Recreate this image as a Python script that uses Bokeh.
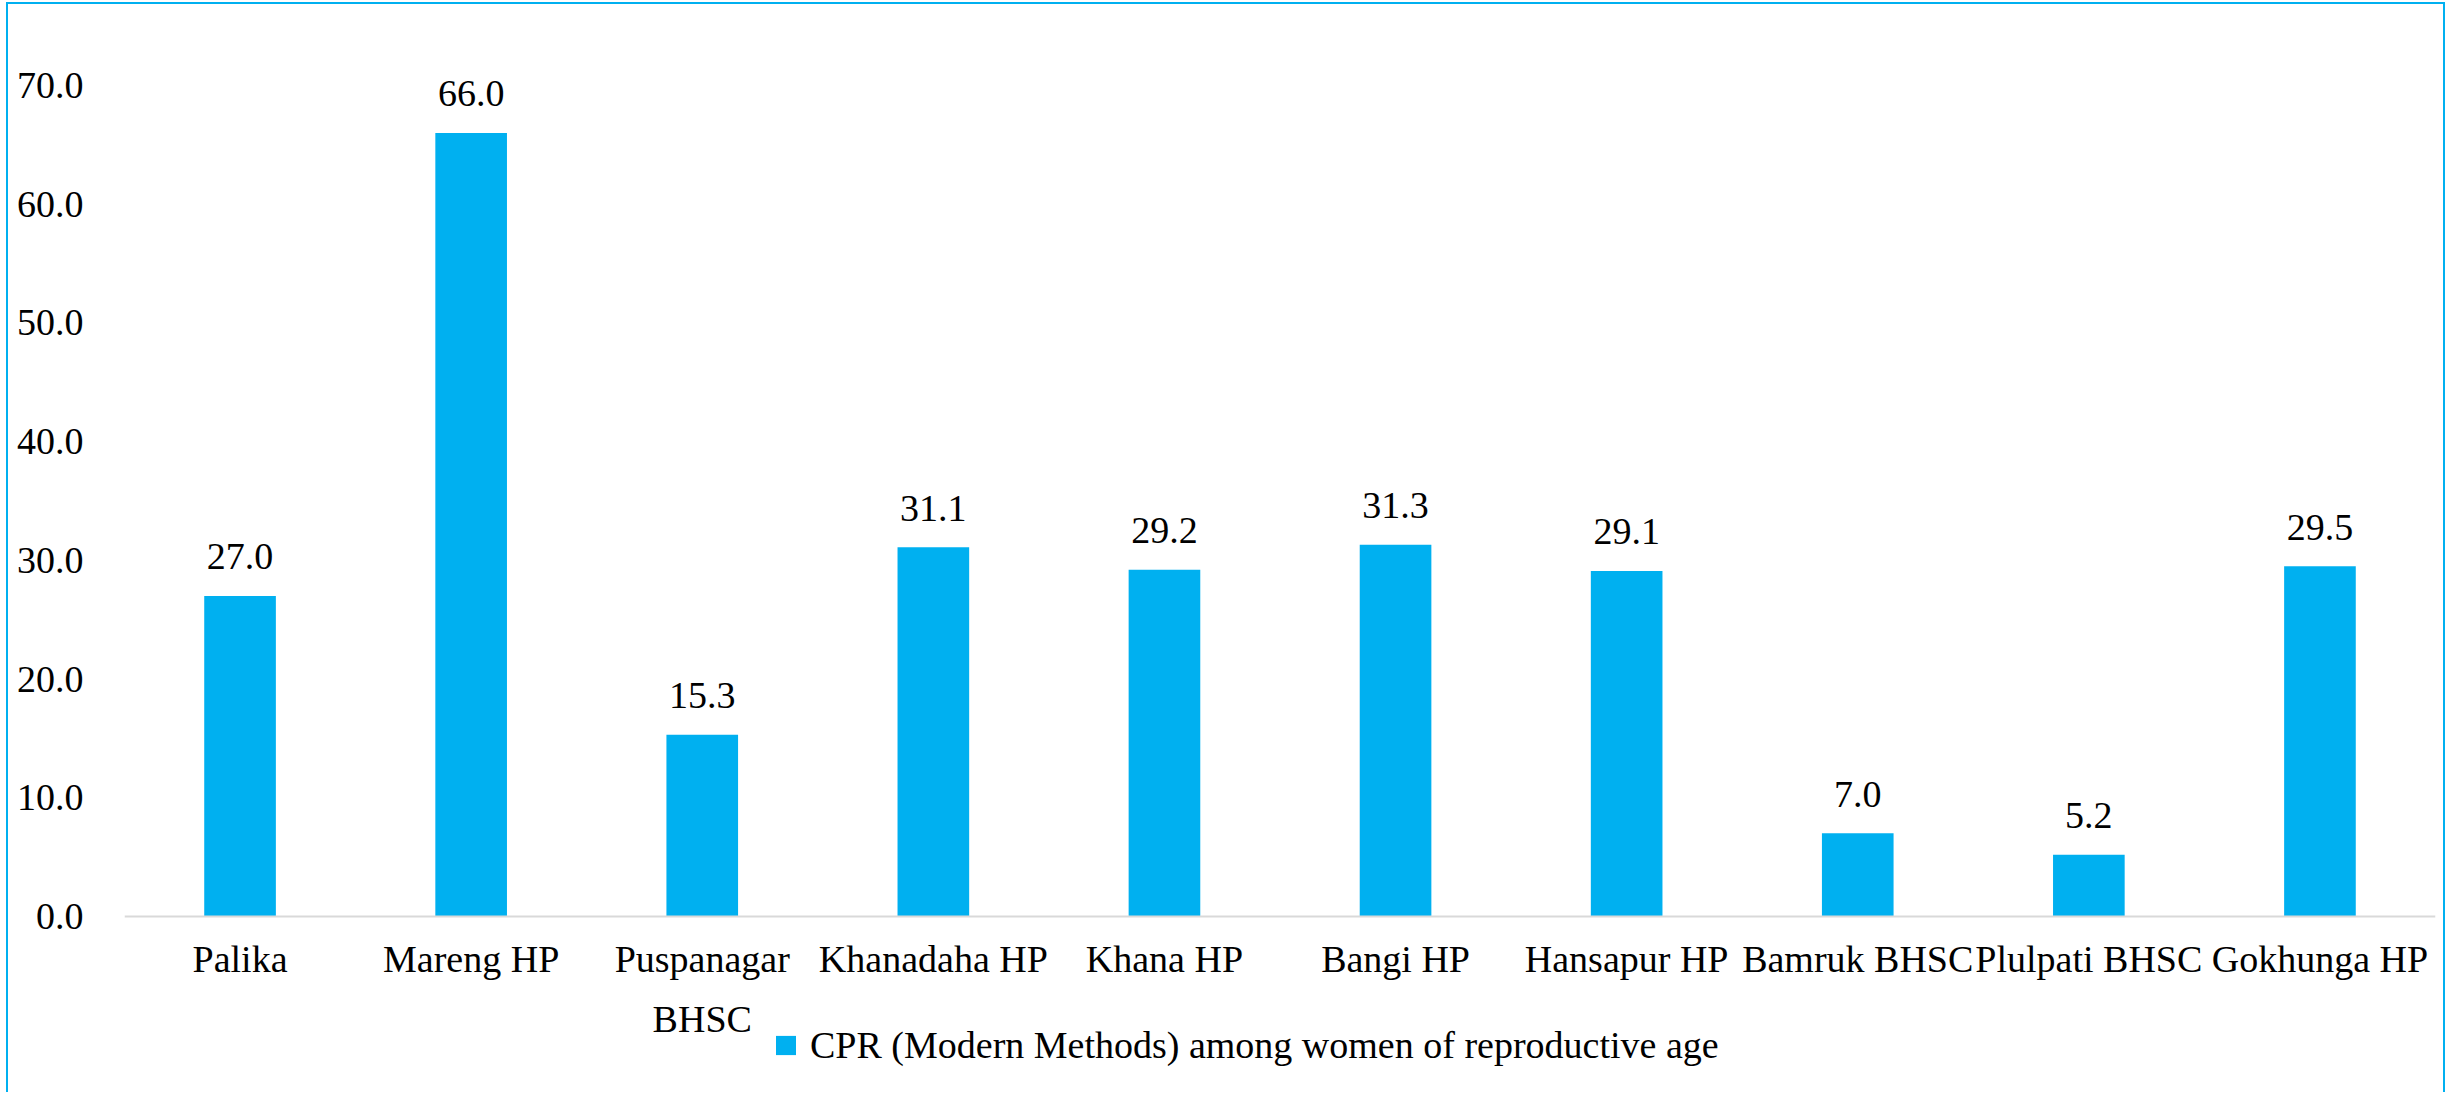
from bokeh.plotting import figure
from bokeh.models import (ColumnDataSource, FactorRange, Range1d, FixedTicker,
                          NumeralTickFormatter, Legend, LegendItem)
from bokeh.core.properties import value
from bokeh.embed import file_html
from bokeh.resources import INLINE

categories = ["Palika", "Mareng HP", "Puspanagar\nBHSC", "Khanadaha HP", "Khana HP",
              "Bangi HP", "Hansapur HP", "Bamruk BHSC", "Plulpati BHSC", "Gokhunga HP"]
cpr_values = [27.0, 66.0, 15.3, 31.1, 29.2, 31.3, 29.1, 7.0, 5.2, 29.5]
y_ticks = [0, 10, 20, 30, 40, 50, 60, 70]
series_name = "CPR (Modern Methods) among women of reproductive age"

BLUE = "#00B0F0"
FONT = "Liberation Serif"
FS = "38px"

src = ColumnDataSource(dict(cat=categories, val=cpr_values,
                            lbl=[f"{v:.1f}" for v in cpr_values]))

# frame fills the canvas height; the x axis is pinned at y = 0
p = figure(x_range=FactorRange(factors=categories, range_padding=0),
           y_range=Range1d(-15.0, 76.82),
           width=2439, height=1090,
           output_backend="svg", toolbar_location=None,
           min_border_left=116, min_border_right=12,
           min_border_top=0, min_border_bottom=0)
p.styles = {"border-top": f"2px solid {BLUE}",
            "border-left": f"2px solid {BLUE}",
            "border-right": f"2px solid {BLUE}",
            "margin-left": "6px", "margin-top": "2px"}
p.outline_line_color = None
p.background_fill_color = "white"
p.border_fill_color = "white"
p.xgrid.grid_line_color = None
p.ygrid.grid_line_color = None

bars = p.vbar(x="cat", top="val", width=0.31, bottom=0, source=src,
              fill_color=BLUE, line_color=None)

p.text(x="cat", y="val", text="lbl", source=src, y_offset=-39,
       text_align="center", text_baseline="alphabetic",
       text_font=value(FONT), text_font_size=FS, text_color="black")

# y axis
p.yaxis.ticker = FixedTicker(ticks=y_ticks)
p.yaxis.formatter = NumeralTickFormatter(format="0.0")
p.yaxis.axis_line_color = None
p.yaxis.major_tick_line_color = None
p.yaxis.minor_tick_line_color = None
p.yaxis.major_tick_in = 0
p.yaxis.major_tick_out = 0
p.yaxis.major_label_standoff = 41
p.yaxis.major_label_text_font = FONT
p.yaxis.major_label_text_font_size = FS
p.yaxis.major_label_text_color = "black"

# x axis pinned at zero
xa = p.xaxis[0]
xa.fixed_location = 0
xa.axis_line_color = "#D9D9D9"
xa.axis_line_width = 2
xa.major_tick_line_color = None
xa.minor_tick_line_color = None
xa.major_tick_in = 0
xa.major_tick_out = 0
xa.major_label_standoff = 22
xa.major_label_text_font = FONT
xa.major_label_text_font_size = FS
xa.major_label_text_color = "black"
xa.major_label_text_line_height = 1.42

legend = Legend(items=[LegendItem(label=series_name, renderers=[bars])],
                location=(649, 27), orientation="horizontal",
                glyph_width=25, glyph_height=24, label_standoff=12,
                label_text_font=FONT, label_text_font_size=FS,
                label_text_color="black", padding=0, margin=0, spacing=0,
                border_line_color=None, background_fill_alpha=0)
p.add_layout(legend, "center")

open("out.html", "w").write(file_html(p, INLINE))
